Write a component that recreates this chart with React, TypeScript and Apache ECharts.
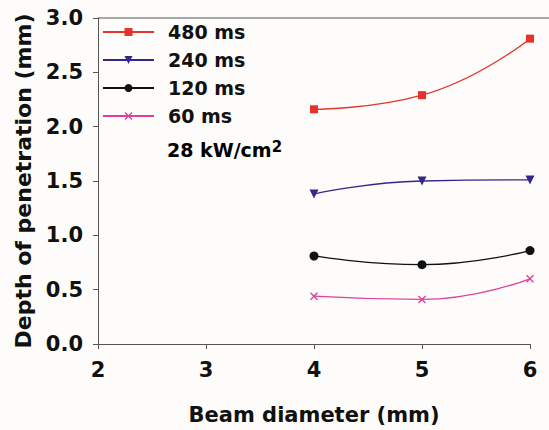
import React, { useEffect, useRef } from "react";
import * as echarts from "echarts";

const beamDiameters = [4, 5, 6];
const series480 = [2.16, 2.29, 2.81];
const series240 = [1.38, 1.5, 1.51];
const series120 = [0.81, 0.73, 0.86];
const series60 = [0.44, 0.41, 0.6];
const seriesNames = ["480 ms", "240 ms", "120 ms", "60 ms"];
const powerNote = "28 kW/cm";
const powerSup = "2";

const FONT = "DejaVu Sans";
const X_SYMBOL =
  "path://M0,1.2 L1.2,0 L5,3.8 L8.8,0 L10,1.2 L6.2,5 L10,8.8 L8.8,10 L5,6.2 L1.2,10 L0,8.8 L3.8,5 Z";

function pts(vals: number[]) {
  return beamDiameters.map((x, i) => [x, vals[i]]);
}

export default function App() {
  const ref = useRef<HTMLDivElement>(null);
  useEffect(() => {
    if (!ref.current) return;
    const chart = echarts.init(ref.current, undefined, { renderer: "svg" });
    const mk = (name: string, vals: number[], color: string, symbol: string, size: number, rotate = 0) => ({
      name,
      type: "line",
      data: pts(vals),
      smooth: 0.5,
      symbol,
      symbolSize: size,
      symbolRotate: rotate,
      showSymbol: true,
      lineStyle: { color, width: 1.3 },
      itemStyle: { color, borderWidth: 0 },
    });
    chart.setOption({
      animation: false,
      backgroundColor: "#fdfcfa",
      grid: { left: 98, right: 19, top: 18, bottom: 86 },
      legend: {
        orient: "vertical",
        left: 102,
        top: 22,
        padding: 0,
        itemWidth: 51,
        itemHeight: 10,
        itemGap: 8,
        data: seriesNames,
        textStyle: { fontFamily: FONT, fontWeight: "bold", fontSize: 19, color: "#111", lineHeight: 20, padding: [0, 0, 0, 9] },
      },
      xAxis: {
        type: "value",
        min: 2,
        max: 6,
        interval: 1,
        name: "Beam diameter (mm)",
        nameLocation: "middle",
        nameGap: 60,
        nameTextStyle: { fontFamily: FONT, fontWeight: "bold", fontSize: 21, color: "#111" },
        axisLine: { lineStyle: { color: "#555", width: 1 } },
        axisTick: { show: true, inside: false, length: 5, lineStyle: { color: "#555" } },
        axisLabel: { fontFamily: FONT, fontWeight: "bold", fontSize: 21, color: "#111", margin: 15 },
        splitLine: { show: false },
      },
      yAxis: {
        type: "value",
        min: 0,
        max: 3,
        interval: 0.5,
        name: "Depth of penetration (mm)",
        nameLocation: "middle",
        nameGap: 63,
        nameTextStyle: { fontFamily: FONT, fontWeight: "bold", fontSize: 22, color: "#111" },
        axisLine: { show: true, lineStyle: { color: "#555", width: 1 } },
        axisTick: { show: true, inside: false, length: 5, lineStyle: { color: "#555" } },
        axisLabel: {
          fontFamily: FONT,
          fontWeight: "bold",
          fontSize: 21,
          color: "#111",
          margin: 15,
          formatter: (v: number) => v.toFixed(1),
        },
        splitLine: { show: false },
      },
      graphic: [
        {
          type: "line",
          shape: { x1: 98, y1: 18, x2: 549, y2: 18 },
          style: { stroke: "#555", lineWidth: 1 },
        },
        {
          type: "text",
          left: 167,
          top: 139,
          style: {
            text: `{a|${powerNote}}{b|${powerSup}}`,
            rich: {
              a: { fontFamily: FONT, fontWeight: "bold", fontSize: 19, color: "#111", lineHeight: 22 },
              b: { fontFamily: FONT, fontWeight: "bold", fontSize: 15, color: "#111", lineHeight: 14, verticalAlign: "top" },
            },
          },
        },
      ],
      series: [
        mk(seriesNames[0], series480, "#e5332a", "rect", 8),
        mk(seriesNames[1], series240, "#35278a", "triangle", 9, 180),
        mk(seriesNames[2], series120, "#111111", "circle", 9),
        mk(seriesNames[3], series60, "#e0409a", X_SYMBOL, 8),
      ],
    });
    return () => chart.dispose();
  }, []);
  return <div ref={ref} style={{ position: "absolute", left: 0, top: 0, width: 549, height: 430 }} />;
}
